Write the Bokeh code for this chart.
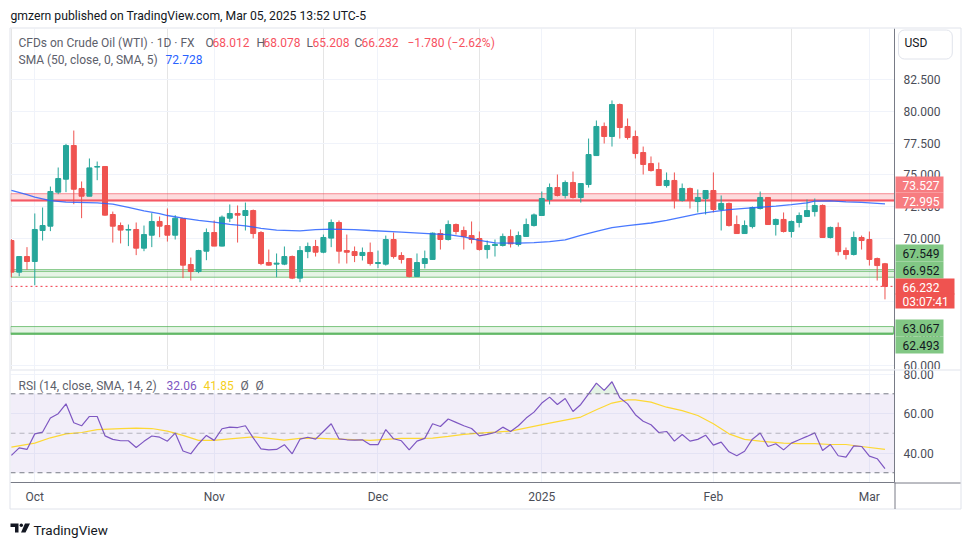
import numpy as np
from bokeh.plotting import figure
from bokeh.layouts import column
from bokeh.models import (Range1d, FixedTicker, Span, BoxAnnotation, Label, Grid,
                          NumeralTickFormatter, ColumnDataSource)
from bokeh.embed import file_html
from bokeh.resources import INLINE

FONT = "Roboto"

# ---------------- data ----------------
month_ticks = [3, 26, 47, 68, 90, 110]
month_labels = ["Oct", "Nov", "Dec", "2025", "Feb", "Mar"]

opens = [69.84, 67.35, 68.58, 68.19, 70.63, 70.97, 73.65, 74.67, 77.32, 73.94,
         73.33, 75.62, 75.67, 71.89, 71.02, 70.66, 70.71, 69.24, 70.26, 71.34,
         71.02, 70.26, 71.57, 67.95, 67.40, 69.00, 70.47, 69.40, 71.60, 71.97,
         71.81, 72.20, 70.47, 68.11, 67.98, 67.98, 68.58, 66.88, 68.97, 69.37,
         68.92, 70.03, 71.26, 69.05, 68.97, 68.66, 68.90, 68.03, 67.98, 69.92,
         68.66, 68.42, 67.01, 68.03, 68.35, 70.39, 69.92, 71.10, 70.63, 70.23,
         70.00, 69.13, 69.45, 69.45, 70.16, 69.53, 70.16, 71.02, 71.81, 73.07,
         74.01, 73.39, 74.41, 73.23, 74.25, 76.53, 78.82, 78.03, 80.55, 78.82,
         78.03, 76.77, 75.90, 75.43, 74.17, 74.57, 73.00, 73.94, 72.91, 73.15,
         73.78, 72.28, 72.76, 71.10, 70.39, 70.94, 72.36, 73.23, 71.10, 71.50,
         70.55, 71.26, 71.73, 72.12, 72.60, 70.08, 70.87, 69.05, 68.74, 70.08,
         69.92, 68.42, 68.012]
highs = [69.95, 68.62, 69.32, 71.97, 72.44, 74.09, 75.59, 77.45, 78.50, 74.49,
         76.30, 76.06, 75.70, 72.12, 71.26, 71.10, 71.26, 71.02, 72.00, 71.73,
         72.36, 71.84, 71.60, 68.50, 69.11, 70.79, 71.42, 71.81, 72.68, 72.60,
         72.83, 72.28, 70.58, 69.13, 68.82, 69.37, 68.66, 69.40, 69.68, 69.89,
         70.31, 71.50, 71.42, 70.31, 69.37, 69.29, 69.68, 69.05, 70.23, 70.47,
         68.92, 68.45, 68.82, 69.05, 70.47, 70.71, 71.42, 71.18, 70.94, 71.34,
         70.55, 69.84, 69.92, 70.39, 70.71, 70.55, 71.57, 71.97, 73.70, 74.33,
         75.04, 74.57, 75.27, 74.35, 77.87, 79.29, 79.13, 80.87, 80.63, 79.45,
         78.50, 77.24, 76.46, 75.98, 75.20, 75.20, 74.33, 74.01, 73.86, 73.80,
         75.20, 73.39, 72.83, 71.81, 71.42, 72.52, 73.70, 73.25, 71.57, 72.05,
         71.42, 72.05, 73.07, 73.15, 72.68, 70.94, 71.26, 69.29, 70.55, 70.23,
         70.55, 68.50, 68.078]
lows = [66.95, 67.03, 67.53, 66.32, 69.84, 70.58, 73.49, 73.65, 72.70, 71.60,
        73.33, 74.59, 71.80, 69.68, 69.61, 69.40, 68.69, 69.00, 69.32, 70.10,
        69.76, 69.92, 66.88, 66.69, 67.27, 68.29, 69.40, 69.38, 71.29, 69.68,
        70.63, 70.00, 67.90, 67.87, 66.95, 67.90, 66.80, 66.56, 68.45, 68.58,
        68.84, 69.32, 68.03, 68.03, 68.14, 68.27, 67.87, 67.66, 67.87, 68.42,
        68.03, 66.93, 66.98, 67.64, 68.33, 69.13, 69.84, 70.31, 69.13, 69.61,
        69.05, 68.42, 68.58, 69.37, 69.29, 69.37, 70.14, 70.94, 71.79, 72.68,
        73.31, 73.15, 73.15, 72.83, 74.01, 76.51, 77.48, 77.24, 77.87, 77.79,
        76.30, 75.04, 75.27, 74.15, 74.01, 72.36, 72.91, 72.36, 72.05, 71.89,
        72.05, 70.63, 70.94, 70.37, 70.37, 70.79, 72.28, 71.08, 70.23, 70.47,
        70.08, 70.87, 71.71, 71.73, 70.06, 70.00, 68.66, 68.35, 68.66, 69.13,
        67.87, 66.69, 65.208]
closes = [67.35, 68.58, 68.19, 70.71, 71.02, 73.70, 74.72, 77.32, 73.88, 73.33,
          75.56, 75.67, 71.84, 70.97, 70.66, 70.71, 69.24, 70.31, 71.34, 70.97,
          70.26, 71.60, 67.90, 67.40, 69.05, 70.47, 69.40, 71.68, 71.97, 71.84,
          72.20, 70.39, 68.03, 67.90, 68.06, 68.58, 66.88, 69.05, 69.37, 68.92,
          70.08, 71.26, 69.00, 68.92, 68.66, 68.90, 68.03, 68.11, 69.92, 68.58,
          68.35, 67.01, 68.11, 68.42, 70.42, 69.92, 71.10, 70.55, 70.16, 69.92,
          69.13, 69.45, 69.53, 70.16, 69.58, 70.23, 71.10, 71.86, 73.15, 74.01,
          73.39, 74.41, 73.23, 74.33, 76.61, 78.82, 78.03, 80.55, 78.74, 77.95,
          76.69, 75.83, 75.35, 74.17, 74.57, 73.00, 73.94, 73.00, 73.23, 73.78,
          72.28, 72.76, 71.02, 70.39, 71.02, 72.44, 73.23, 71.10, 71.50, 70.55,
          71.34, 71.81, 72.20, 72.60, 70.08, 70.87, 68.97, 68.74, 70.08, 69.84,
          68.35, 67.87, 66.232]

sma50_idx = [0, 2, 3, 5, 7, 11, 13, 15, 17, 19, 20, 22, 24, 26, 28, 30, 32, 34, 37,
             39, 41, 44, 46, 50, 54, 56, 58, 60, 62, 65, 67, 69, 71, 73, 75, 77, 79,
             82, 84, 86, 88, 90, 92, 94, 96, 98, 100, 102, 103, 105, 107, 109, 112]
sma50_val = [73.78, 73.45, 73.25, 72.99, 72.86, 72.81, 72.70, 72.45, 72.18, 71.95,
             71.81, 71.60, 71.42, 71.29, 71.12, 71.00, 70.80, 70.66, 70.60, 70.70,
             70.74, 70.70, 70.63, 70.50, 70.37, 70.31, 70.12, 69.86, 69.66, 69.63,
             69.68, 69.76, 69.89, 70.25, 70.56, 70.85, 71.02, 71.22, 71.42, 71.68,
             71.94, 72.12, 72.27, 72.37, 72.46, 72.55, 72.67, 72.80, 72.94, 72.97,
             72.88, 72.84, 72.728]

rsi = [38.8, 42.6, 41.8, 49.7, 50.6, 57.7, 59.9, 64.9, 55.3, 53.8,
       58.5, 58.5, 48.7, 46.9, 46.2, 46.2, 42.8, 45.9, 48.6, 48.0,
       46.0, 50.1, 41.0, 39.6, 44.7, 48.9, 46.4, 52.3, 53.1, 52.9,
       53.8, 47.7, 42.1, 41.6, 41.8, 44.2, 39.6, 47.0, 48.0, 47.0,
       50.9, 54.8, 47.2, 46.7, 46.5, 46.7, 44.2, 44.2, 51.9, 47.2,
       46.2, 41.6, 46.0, 47.4, 54.8, 53.4, 57.2, 55.5, 53.8, 52.4,
       48.7, 49.4, 50.4, 53.1, 50.9, 53.8, 57.7, 60.7, 65.3, 68.3,
       64.6, 67.6, 61.0, 64.6, 70.0, 75.4, 71.7, 76.1, 68.0, 64.9,
       59.4, 56.1, 54.3, 50.4, 50.9, 46.0, 49.4, 46.0, 46.9, 49.0,
       44.0, 45.5, 40.6, 38.6, 40.9, 47.0, 50.1, 43.3, 44.7, 41.6,
       45.0, 46.7, 48.4, 50.2, 41.3, 44.3, 38.6, 37.9, 43.6, 43.3,
       38.4, 37.1, 32.06]

rsi_ma_idx = [0, 3, 5, 7, 9, 11, 14, 16, 18, 20, 22, 24, 26, 28, 31, 33, 35, 37, 39,
              41, 43, 46, 48, 50, 52, 54, 56, 58, 60, 64, 69, 73, 75, 77, 79, 80, 82,
              84, 86, 88, 90, 92, 94, 96, 99, 101, 103, 105, 107, 109, 112]
rsi_ma_val = [43.0, 45.0, 47.7, 49.7, 50.4, 51.8, 52.3, 52.6, 52.4, 51.1, 48.9, 46.4,
              46.4, 47.2, 48.2, 47.4, 46.5, 47.4, 47.5, 47.2, 46.9, 46.4, 46.9, 47.4,
              47.4, 47.5, 48.4, 49.4, 50.1, 51.1, 55.1, 58.2, 61.9, 65.3, 66.9, 66.9,
              65.8, 63.2, 61.5, 59.0, 54.8, 49.7, 46.9, 46.0, 45.0, 44.8, 44.8, 44.3,
              44.3, 43.3, 41.85]

price_ticks = [60.0, 62.5, 65.0, 67.5, 70.0, 72.5, 75.0, 77.5, 80.0, 82.5]
rsi_ticks = [40, 60, 80]
rsi_levels = [70, 50, 30]

red_zone = (72.995, 73.527)
green_zone = (66.952, 67.549)
green_zone_inner = 67.40
green_zone2 = (62.493, 63.067)
green_zone2_end = 113.09
last_price = 66.232

# price-scale tags: (text, top, bottom, right edge (page px), background, text colour)
tags = [("73.527", 176, 192, 943, "#f77c80", "white"),
        ("72.995", 192, 208, 943, "#f77c80", "white"),
        ("67.549", 244, 261, 943, "#81c784", "#131722"),
        ("66.952", 261, 278, 943, "#81c784", "#131722"),
        ("66.232", 278, 294, 954, "#ef5350", "white"),
        ("03:07:41", 293, 308, 954, "#ef5350", "white"),
        ("63.067", 319, 336, 943, "#81c784", "#131722"),
        ("62.493", 336, 353, 943, "#81c784", "#131722")]

W, H = 970, 545

# ---------------- price pane ----------------
x_range = Range1d(-0.115, 113.22)
p = figure(width=W, height=369, x_range=x_range, y_range=Range1d(59.685, 86.535),
           output_backend="svg", toolbar_location=None, x_axis_location=None,
           y_axis_location="right", min_border_left=10, min_border_right=76,
           min_border_top=28, min_border_bottom=0)
p.outline_line_color = None

p.yaxis.ticker = FixedTicker(ticks=price_ticks)
p.yaxis.formatter = NumeralTickFormatter(format="0.000")
p.ygrid.ticker = FixedTicker(ticks=price_ticks)
p.ygrid.grid_line_color = "#f0f3fa"
p.add_layout(Grid(dimension=0, ticker=FixedTicker(ticks=month_ticks),
                  grid_line_color="#f0f3fa"))

# zones
p.add_layout(BoxAnnotation(bottom=red_zone[0], top=red_zone[1], fill_color="#f23645",
                           fill_alpha=0.18, line_color="#f23645", line_alpha=0.55,
                           line_width=1, level="underlay"))
p.add_layout(Span(location=red_zone[0], dimension="width", line_color="#f23645",
                  line_alpha=0.6, line_width=2.5, level="underlay"))
p.add_layout(BoxAnnotation(bottom=green_zone[0], top=green_zone[1], fill_color="#4caf50",
                           fill_alpha=0.14, line_color="#4caf50", line_alpha=0.7,
                           line_width=1, level="underlay"))
p.add_layout(Span(location=green_zone_inner, dimension="width", line_color="#4caf50",
                  line_alpha=0.6, line_width=1, level="underlay"))
p.add_layout(BoxAnnotation(bottom=green_zone2[0], top=green_zone2[1], right=green_zone2_end,
                           fill_color="#4caf50", fill_alpha=0.14, line_color="#4caf50",
                           line_alpha=0.7, line_width=1, level="underlay"))
p.segment(x0=[x_range.start - 1], x1=[green_zone2_end], y0=[green_zone2[0]],
          y1=[green_zone2[0]], line_color="#4caf50", line_alpha=0.7, line_width=2.5)
p.add_layout(Span(location=last_price, dimension="width", line_color="#f23645",
                  line_dash="2 3", line_width=1))

# candles
idx = list(range(len(closes)))
colors = ["#26a69a" if c >= o else "#ef5350" for o, c in zip(opens, closes)]
src = ColumnDataSource(dict(x=idx, h=highs, l=lows,
                            top=[max(o, c) for o, c in zip(opens, closes)],
                            bottom=[min(o, c) for o, c in zip(opens, closes)],
                            color=colors))
p.segment(x0="x", x1="x", y0="l", y1="h", line_color="color", line_width=1, source=src)
p.vbar(x="x", width=0.64, top="top", bottom="bottom", fill_color="color",
       line_color="color", line_width=1, source=src)

p.line(sma50_idx, sma50_val, line_color="#2962ff", line_width=1.3, line_alpha=0.85)

# ---------------- RSI pane ----------------
r = figure(width=W, height=H - 369, x_range=x_range, y_range=Range1d(25.06, 82.30),
           output_backend="svg", toolbar_location=None, y_axis_location="right",
           min_border_left=10, min_border_right=76, min_border_top=0,
           min_border_bottom=H - 482)
r.outline_line_color = None
r.yaxis.ticker = FixedTicker(ticks=rsi_ticks)
r.yaxis.formatter = NumeralTickFormatter(format="0.00")
r.xaxis.ticker = FixedTicker(ticks=month_ticks)
r.xaxis.major_label_overrides = {t: l for t, l in zip(month_ticks, month_labels)}
r.xgrid.grid_line_color = "#f0f3fa"
r.ygrid.ticker = FixedTicker(ticks=rsi_ticks)
r.ygrid.grid_line_color = "#f0f3fa"

for ax in (p.yaxis, r.xaxis, r.yaxis):
    ax.major_tick_out = 0
    ax.major_tick_in = 0
    ax.minor_tick_out = 0
    ax.minor_tick_in = 0
    ax.axis_line_color = "#787b86"
    ax.major_label_text_color = "#4a4d57"
    ax.major_label_text_font = FONT
    ax.major_label_text_font_size = "12px"
p.yaxis.major_label_standoff = 9
r.yaxis.major_label_standoff = 9
r.xaxis.major_label_standoff = 7

r.add_layout(BoxAnnotation(bottom=rsi_levels[2], top=rsi_levels[0], fill_color="#7e57c2",
                           fill_alpha=0.1, line_color=None, level="underlay"))
for lvl, a in zip(rsi_levels, [1.0, 0.5, 1.0]):
    r.add_layout(Span(location=lvl, dimension="width", line_color="#787b86",
                      line_alpha=a, line_dash="5 4", line_width=1))

rsi_arr = np.array(rsi)
r.varea(x=idx, y1=[70] * len(idx), y2=np.maximum(rsi_arr, 70), fill_color="#4caf50",
        fill_alpha=0.15)
r.line(rsi_ma_idx, rsi_ma_val, line_color="#fdd835", line_width=1.2)
r.line(idx, rsi, line_color="#7e57c2", line_width=1.2)

# ---------------- overlay for texts and chrome (page pixel coordinates) ----------------
o = figure(width=W, height=H, x_range=Range1d(0, W), y_range=Range1d(H, 0),
           output_backend="svg", toolbar_location=None, x_axis_location=None,
           y_axis_location=None, min_border=0,
           styles={"position": "absolute", "top": "0px", "left": "0px",
                   "z-index": "10"})
o.outline_line_color = None
o.background_fill_color = None
o.border_fill_color = None
o.xgrid.visible = False
o.ygrid.visible = False

# chart chrome
o.quad(left=[9.5], right=[960.5], top=[27.5], bottom=[508.5], fill_color=None,
       line_color="#e0e3eb", line_width=1)
o.segment(x0=[10, 894, 894.5], x1=[960, 960, 894.5], y0=[369.5, 482.5, 482],
          y1=[369.5, 482.5, 508.5], line_color=["#e0e3eb", "#787b86", "#787b86"],
          line_width=1)


def lab(xp, yp, text, color, size="12px", style="normal", **kw):
    o.add_layout(Label(x=xp, y=yp, text=text, text_color=color, text_font=FONT,
                       text_font_size=size, text_font_style=style,
                       text_baseline="middle", text_align="left", **kw))


GREY = "#5d606b"
RED = "#f7525f"
lab(10, 15, "gmzern published on TradingView.com, Mar 05, 2025 13:52 UTC-5",
    "#131722", size="12.2px")
lab(18, 42, "CFDs on Crude Oil (WTI) · 1D · FX", GREY)
for xp, t, c in [(205, "O", GREY), (212, "68.012", RED), (256, "H", GREY),
                 (263, "68.078", RED), (306, "L", GREY), (312, "65.208", RED),
                 (354, "C", GREY), (361, "66.232", RED),
                 (407, "\u22121.780 (\u22122.62%)", RED)]:
    lab(xp, 42, t, c)
lab(18, 59, "SMA (50, close, 0, SMA, 5)", GREY)
lab(165, 59, "72.728", "#2962ff")
lab(18, 385, "RSI (14, close, SMA, 14, 2)", GREY)
lab(166, 385, "32.06", "#7e57c2")
lab(203, 385, "41.85", "#f5cf1d")
lab(240, 385, "\u00d8", GREY)
lab(255, 385, "\u00d8", GREY)

lab(898, 44, "USD", "#131722", background_fill_color="white",
    border_line_color="#e0e3eb", border_line_width=1, padding=(6, 25, 6, 9),
    border_radius=6)

# price-scale tags
o.quad(left=[895] * len(tags), right=[t[3] for t in tags], top=[t[1] for t in tags],
       bottom=[t[2] for t in tags], fill_color=[t[4] for t in tags], line_color=None)
for t, top, bot, rgt, bg, fg in tags:
    lab(902, (top + bot) / 2 + 0.5, t, fg)

# logo
o.patches(xs=[[10, 18, 18, 14.5, 14.5, 10], [24.5, 29.5, 25, 20.5]],
          ys=[[523, 523, 532, 532, 526.5, 526.5], [523, 523, 532, 532]],
          fill_color="#131722", line_color=None)
o.circle(x=[20.8], y=[524.8], radius=1.7, fill_color="#131722", line_color=None)
lab(33, 529, "TradingView", "#131722", size="13.5px")

layout = column(p, r, spacing=0)
open("out.html", "w").write(file_html([layout, o], INLINE))
